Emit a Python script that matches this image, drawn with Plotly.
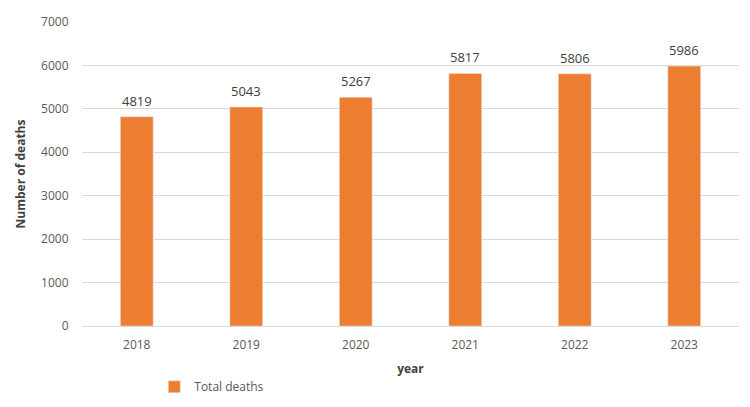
import plotly.graph_objects as go

years = ["2018", "2019", "2020", "2021", "2022", "2023"]
total_deaths = [4819, 5043, 5267, 5817, 5806, 5986]

fig = go.Figure()
fig.add_trace(go.Bar(
    x=years, y=total_deaths, name="Total deaths",
    marker_color="#ED7D31", width=0.3,
))
# category axis: annotation x given as category index
for i, v in enumerate(total_deaths):
    fig.add_annotation(x=i, y=v, xref="x", yref="y", text=str(v), showarrow=False,
                       yanchor="middle", yshift=16,
                       font=dict(color="#404040", size=13))
fig.update_layout(
    width=750, height=407,
    margin=dict(l=82, r=11, t=22, b=81, autoexpand=False),
    paper_bgcolor="white", plot_bgcolor="white",
    font=dict(family="Open Sans, Liberation Sans, sans-serif", color="#595959", size=12),
    showlegend=True,
    legend=dict(orientation="h", x=0.11, y=-0.2, xanchor="left", yanchor="middle",
                font=dict(size=12, color="#595959")),
    xaxis=dict(type="category",
               title=dict(text="<b>year</b>", font=dict(size=12, color="#404040"), standoff=12),
               showline=True, linecolor="#D9D9D9", ticks="", tickfont=dict(size=12),
               ticklabelstandoff=8),
    yaxis=dict(title=dict(text="<b>Number of deaths</b>", font=dict(size=12, color="#404040"), standoff=12),
               range=[0, 7000], dtick=1000, gridcolor="#D9D9D9", zeroline=False,
               showline=False, tickfont=dict(size=12), ticksuffix="    "),
    bargap=0.7,
)
fig.write_html("out.html")
